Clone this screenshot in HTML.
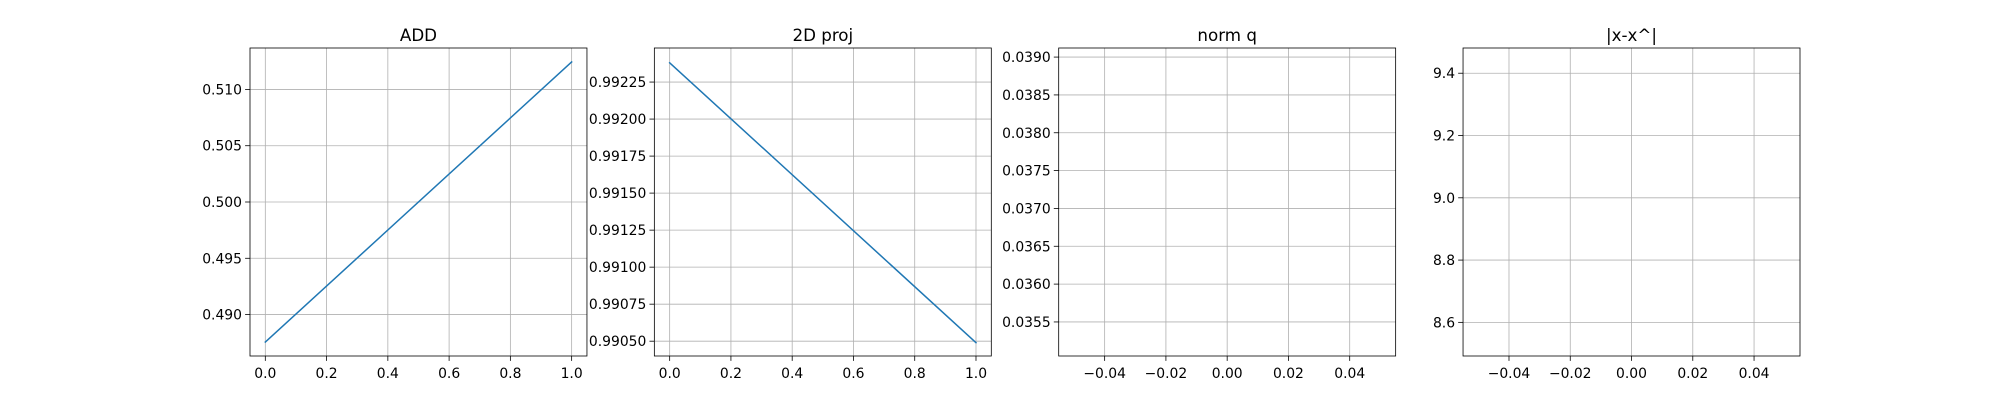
<!DOCTYPE html>
<html><head><meta charset="utf-8"><style>
html,body{margin:0;padding:0;background:#fff;}
svg text{font-family:"DejaVu Sans","Liberation Sans",sans-serif;fill:#000;}
</style></head><body>
<svg id="fig" width="2000" height="400" xmlns="http://www.w3.org/2000/svg"></svg>
<script>
const titles = ["ADD", "2D proj", "norm q", "|x-x^|"];
const xValsAdd = [0, 1];
const yValsAdd = [0.48756, 0.51244];
const xValsProj = [0, 1];
const yValsProj = [0.99238, 0.99049];
const xValsNormQ = [0];
const yValsNormQ = [0.03708];
const xValsDist = [0];
const yValsDist = [8.987];
const xLims = [[-0.05, 1.05], [-0.05, 1.05], [-0.055, 0.055], [-0.055, 0.055]];
const yLims = [[0.48632, 0.51368], [0.99040, 0.99248], [0.03505, 0.03912], [8.492, 9.481]];
const xTicks = [[0, 0.2, 0.4, 0.6, 0.8, 1.0], [0, 0.2, 0.4, 0.6, 0.8, 1.0], [-0.04, -0.02, 0, 0.02, 0.04], [-0.04, -0.02, 0, 0.02, 0.04]];
const xTickLabels = [["0.0","0.2","0.4","0.6","0.8","1.0"],["0.0","0.2","0.4","0.6","0.8","1.0"],["\u22120.04","\u22120.02","0.00","0.02","0.04"],["\u22120.04","\u22120.02","0.00","0.02","0.04"]];
const yTicks = [[0.490,0.495,0.500,0.505,0.510],[0.99050,0.99075,0.99100,0.99125,0.99150,0.99175,0.99200,0.99225],[0.0355,0.0360,0.0365,0.0370,0.0375,0.0380,0.0385,0.0390],[8.6,8.8,9.0,9.2,9.4]];
const yTickLabels = [["0.490","0.495","0.500","0.505","0.510"],["0.99050","0.99075","0.99100","0.99125","0.99150","0.99175","0.99200","0.99225"],["0.0355","0.0360","0.0365","0.0370","0.0375","0.0380","0.0385","0.0390"],["8.6","8.8","9.0","9.2","9.4"]];
const seriesX = [xValsAdd, xValsProj, xValsNormQ, xValsDist];
const seriesY = [yValsAdd, yValsProj, yValsNormQ, yValsDist];
const slugs = ["add","2d-proj","norm-q","x-dist"];

const NS = "http://www.w3.org/2000/svg";
const svg = document.getElementById("fig");
function mk(tag, attrs, parent){const e=document.createElementNS(NS,tag);for(const k in attrs)e.setAttribute(k,attrs[k]);(parent||svg).appendChild(e);return e;}
const W = 1550/4.6, GAP = W*0.2, TOP = 48, BOT = 356;
for (let i=0;i<4;i++){
  const L = 250 + i*(W+GAP), R = L+W;
  const g = mk("g",{});
  
  
  const sx = v => L + (v-xLims[i][0])/(xLims[i][1]-xLims[i][0])*W;
  const sy = v => BOT - (v-yLims[i][0])/(yLims[i][1]-yLims[i][0])*(BOT-TOP);
  xTicks[i].forEach((t,j)=>{
    const x = sx(t);
    const gl = mk("line",{x1:x,x2:x,y1:TOP,y2:BOT,stroke:"#b0b0b0","stroke-width":0.8},g);
    
    
    mk("line",{x1:x,x2:x,y1:BOT,y2:BOT+4.9,stroke:"#000","stroke-width":0.8},g);
    const tx = mk("text",{x:x,y:BOT+22,"font-size":"13.9px","text-anchor":"middle"},g);
    tx.textContent = xTickLabels[i][j];
    
    
  });
  yTicks[i].forEach((t,j)=>{
    const y = sy(t);
    const gl = mk("line",{x1:L,x2:R,y1:y,y2:y,stroke:"#b0b0b0","stroke-width":0.8},g);
    
    
    mk("line",{x1:L-4.9,x2:L,y1:y,y2:y,stroke:"#000","stroke-width":0.8},g);
    const tx = mk("text",{x:L-8,y:y+5,"font-size":"13.9px","text-anchor":"end"},g);
    tx.textContent = yTickLabels[i][j];
    
    
  });
  const pts = seriesX[i].map((x,k)=>sx(x).toFixed(2)+","+sy(seriesY[i][k]).toFixed(2)).join(" ");
  const pl = mk("polyline",{points:pts,fill:"none",stroke:"#1f77b4","stroke-width":1.5,"stroke-linecap":"square"},g);
  
  
  const fr = mk("rect",{x:L,y:TOP,width:W,height:BOT-TOP,fill:"none",stroke:"#000","stroke-width":0.8},g);
  
  
  const tt = mk("text",{x:L+W/2,y:TOP-7,"font-size":"16.7px","text-anchor":"middle"},g);
  tt.textContent = titles[i];
  
  
}
</script>
</body></html>
